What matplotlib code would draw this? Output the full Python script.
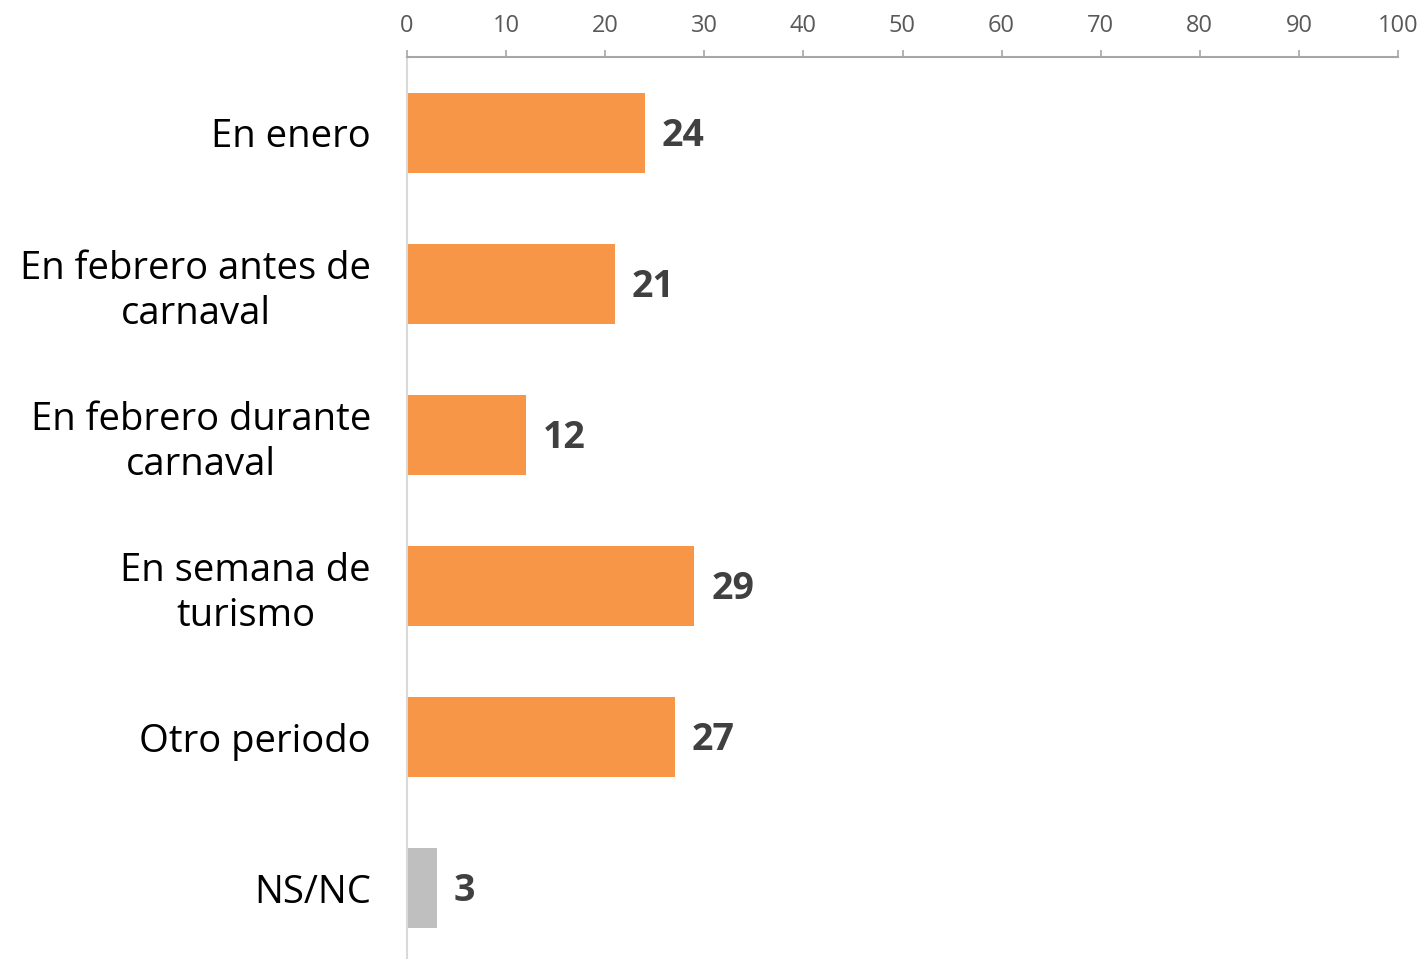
import matplotlib
matplotlib.use("Agg")
import matplotlib.pyplot as plt

categories = ["En enero", "En febrero antes de\ncarnaval", "En febrero durante\ncarnaval",
              "En semana de\nturismo", "Otro periodo", "NS/NC"]
values = [24, 21, 12, 29, 27, 3]
colors = ["#F79646", "#F79646", "#F79646", "#F79646", "#F79646", "#BFBFBF"]
xticks = [0, 10, 20, 30, 40, 50, 60, 70, 80, 90, 100]

plt.rcParams['font.family'] = ['Open Sans', 'DejaVu Sans']

fig = plt.figure(figsize=(14.24, 9.59), dpi=100)
ax = fig.add_axes([407/1424, 0.0, (1398-407)/1424, (959-57)/959])

y = list(range(len(categories)))
ax.barh(y, values, height=0.53, color=colors)
ax.set_xlim(0, 100)
ax.set_ylim(5.47, -0.503)

ax.xaxis.tick_top()
ax.set_xticks(xticks)
ax.set_xticklabels([str(t) for t in xticks], fontsize=17, color="#595959")
ax.tick_params(axis='x', direction='out', length=5, width=1.2, color="#A6A6A6", pad=9)

ax.set_yticks(y)
ax.set_yticklabels(categories, fontsize=27.5, color="#000000", ha='right',
                   multialignment='center', linespacing=1.24)
ax.tick_params(axis='y', length=0, pad=26)

for s in ["right", "bottom"]:
    ax.spines[s].set_visible(False)
ax.spines["top"].set_color("#A6A6A6")
ax.spines["top"].set_linewidth(1.5)
ax.spines["left"].set_color("#D9D9D9")
ax.spines["left"].set_linewidth(1.5)

for yi, v in zip(y, values):
    ax.text(v + 1.7, yi + 0.02, str(v), va='center', ha='left', fontsize=27,
            fontweight='bold', color="#404040")

fig.savefig("out.png", dpi=100)
